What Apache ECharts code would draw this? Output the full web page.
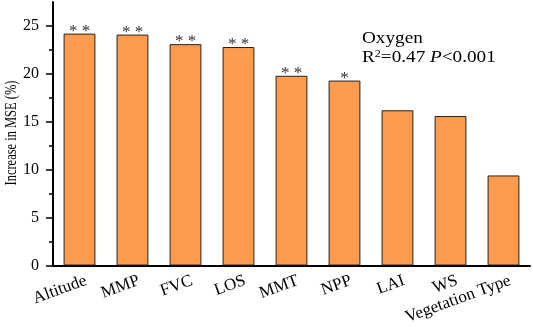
<!DOCTYPE html>
<html>
<head>
<meta charset="utf-8">
<script src="https://cdn.jsdelivr.net/npm/echarts@6/dist/echarts.min.js"></script>
<style>
    html, body { margin: 0; padding: 0; background: #fff; }
    #chart { width: 533px; height: 327px; }
</style>
</head>
<body>
<div id="chart"></div>
<script>
// data
const categories = ['Altitude', 'MMP', 'FVC', 'LOS', 'MMT', 'NPP', 'LAI', 'WS', 'Vegetation Type'];
const mseIncrease = [24.2, 24.1, 23.1, 22.8, 19.8, 19.3, 16.2, 15.6, 9.4];
const stars = ['* *', '* *', '* *', '* *', '* *', '*', '', '', ''];
const yTicks = [0, 5, 10, 15, 20, 25];
const yMinorTicks = [2.5, 7.5, 12.5, 17.5, 22.5];

const serif = '"Liberation Serif", "DejaVu Serif", serif';
const chart = echarts.init(document.getElementById('chart'));

let options = {
    animation: false,
    textStyle: { fontFamily: serif },
    grid: { left: 53, right: 3, top: 2, bottom: 61 },
    xAxis: [
        {
            type: 'category',
            data: categories,
            axisLine: { lineStyle: { color: '#000', width: 2 } },
            axisTick: { alignWithLabel: true, length: 5, lineStyle: { color: '#000', width: 1.5 } },
            axisLabel: {
                interval: 0, rotate: 20, margin: 17,
                padding: [0, -7, 0, 0],
                color: '#000', fontSize: 17, fontFamily: serif
            }
        },
        {
            // boundary ticks only
            type: 'category',
            data: categories,
            position: 'bottom',
            axisLine: { show: false },
            axisTick: { length: 3, lineStyle: { color: '#000', width: 1.5 } },
            axisLabel: { show: false }
        }
    ],
    yAxis: [
        {
            type: 'value',
            min: 0,
            max: 27.5,
            interval: 5,
            axisLine: { show: true, lineStyle: { color: '#000', width: 2 } },
            axisTick: { show: true, length: 7, customValues: yTicks, lineStyle: { color: '#000', width: 1.5 } },
            axisLabel: { color: '#000', fontSize: 16, margin: 14, customValues: yTicks, fontFamily: serif },
            splitLine: { show: false }
        },
        {
            type: 'value',
            min: 0,
            max: 27.5,
            position: 'left',
            axisLine: { show: false },
            axisTick: { show: true, length: 4, customValues: yMinorTicks, lineStyle: { color: '#000', width: 1.5 } },
            axisLabel: { show: false },
            splitLine: { show: false }
        }
    ],
    graphic: [
        {
            // y axis title, narrow and tall like the original
            type: 'text',
            x: 12,
            y: 133,
            rotation: Math.PI / 2,
            scaleX: 0.78,
            style: {
                text: 'Increase in MSE (%)',
                font: '16px ' + serif,
                fill: '#000',
                align: 'center',
                verticalAlign: 'middle'
            }
        },
        {
            type: 'text',
            x: 362,
            y: 31,
            scaleX: 1.2,
            style: {
                text: 'Oxygen',
                font: '16px ' + serif,
                fill: '#000'
            }
        },
        {
            type: 'text',
            x: 362,
            y: 49,
            scaleX: 1.2,
            style: {
                text: '{a|R}{s|2}{a|=0.47 }{i|P}{a|<0.001}',
                fill: '#000',
                rich: {
                    a: { fontSize: 16, fontFamily: serif, color: '#000' },
                    s: { fontSize: 10, fontFamily: serif, color: '#000', verticalAlign: 'top', padding: [0, 0, 8, 0] },
                    i: { fontSize: 16, fontFamily: serif, fontStyle: 'italic', color: '#000' }
                }
            }
        }
    ],
    series: [
        {
            type: 'bar',
            data: mseIncrease,
            barWidth: '60%',
            itemStyle: { color: '#FF9B4C', borderColor: '#222', borderWidth: 1 },
            label: {
                show: true,
                position: 'top',
                distance: -6,
                color: '#333',
                fontSize: 17,
                fontFamily: serif,
                formatter: p => stars[p.dataIndex]
            }
        }
    ]
};
chart.setOption(options);
</script>
</body>
</html>
